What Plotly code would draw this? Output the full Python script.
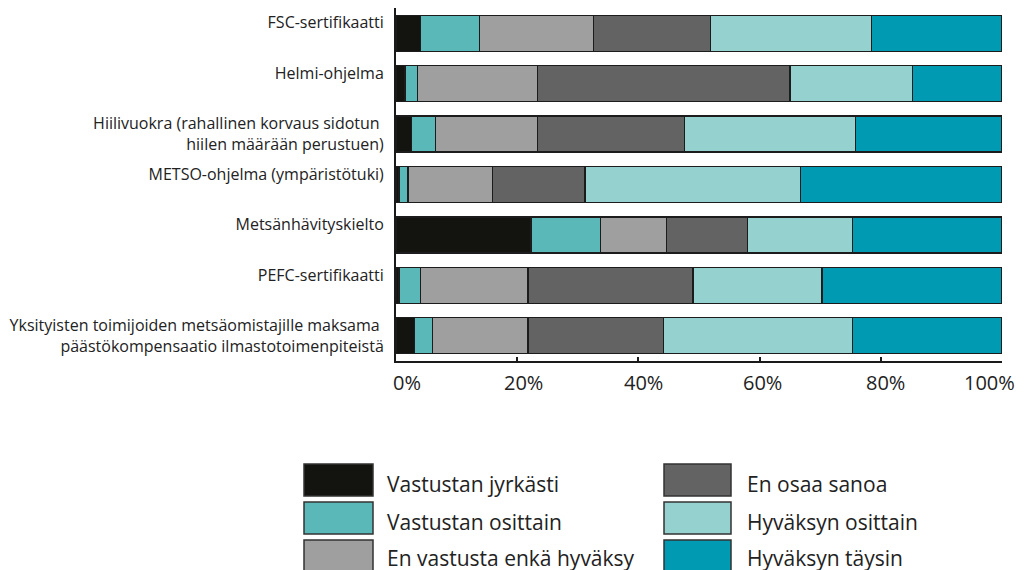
import plotly.graph_objects as go

# ---------------- data ----------------
categories = [
    "FSC-sertifikaatti",
    "Helmi-ohjelma",
    "Hiilivuokra (rahallinen korvaus sidotun\u00a0\nhiilen määrään perustuen)",
    "METSO-ohjelma (ympäristötuki)",
    "Metsänhävityskielto",
    "PEFC-sertifikaatti",
    "Yksityisten toimijoiden metsäomistajille maksama\u00a0\npäästökompensaatio ilmastotoimenpiteistä",
]

series_names = [
    "Vastustan jyrkästi",
    "Vastustan osittain",
    "En vastusta enkä hyväksy",
    "En osaa sanoa",
    "Hyväksyn osittain",
    "Hyväksyn täysin",
]

vastustan_jyrkasti = [4.0, 1.5, 2.5, 0.5, 22.3, 0.5, 3.0]
vastustan_osittain = [9.8, 2.0, 4.0, 1.5, 11.4, 3.5, 3.0]
en_vastusta_enka_hyvaksy = [18.8, 19.8, 16.8, 13.9, 10.9, 17.8, 15.8]
en_osaa_sanoa = [19.3, 41.7, 24.3, 15.3, 13.4, 27.2, 22.3]
hyvaksyn_osittain = [26.6, 20.2, 28.2, 35.6, 17.3, 21.3, 31.2]
hyvaksyn_taysin = [21.5, 14.8, 24.2, 33.2, 24.7, 29.7, 24.7]

series_values = [
    vastustan_jyrkasti,
    vastustan_osittain,
    en_vastusta_enka_hyvaksy,
    en_osaa_sanoa,
    hyvaksyn_osittain,
    hyvaksyn_taysin,
]

colors = ["#13140F", "#5BB8B8", "#9E9F9E", "#626362", "#94D1CF", "#009AB2"]

x_ticks = [0, 20, 40, 60, 80, 100]
x_tick_labels = ["0%", "20%", "40%", "60%", "80%", "100%"]

# ---------------- layout constants ----------------
# the page places the figure 8px in from the window's corner
OFF = 8
W, H = 1025, 570
ML = 396 - OFF
MT = 8 - OFF
PLOT_R = 1002 - OFF
PLOT_B = 361 - OFF
MR = W - PLOT_R
MB = H - PLOT_B
PW = W - ML - MR
PH = H - MT - MB
FONT = "Open Sans"
TXT = "#222222"
# horizontal nudges of the x tick labels (px), as laid out in the original
TICK_NUDGE = [11, 6, 5, 3, 5, -13]


def px_x(px):
    # px given in window coordinates
    return (px - OFF - ML) / PW


def px_y(py):
    return (PLOT_B - (py - OFF)) / PH


def tick_label(c):
    lines = c.split("\n")
    if len(lines) == 1:
        lines.append("\u00a0")
    return "<br>".join(lines)


fig = go.Figure()
for name, vals, col in zip(series_names, series_values, colors):
    fig.add_trace(
        go.Bar(
            y=categories,
            x=vals,
            name=name,
            orientation="h",
            marker=dict(color=col, line=dict(color="#1c1c1c", width=1.3)),
            showlegend=False,
        )
    )

fig.update_layout(
    width=W,
    height=H,
    margin=dict(l=ML, r=MR, t=MT, b=MB, autoexpand=False),
    barmode="stack",
    bargap=0.285,
    paper_bgcolor="white",
    plot_bgcolor="white",
    font=dict(family=FONT, color=TXT),
    xaxis=dict(
        range=[0, 100],
        tickvals=x_ticks,
        showticklabels=False,
        ticks="inside",
        ticklen=4,
        tickwidth=2,
        tickcolor="#1a1a1a",
        showline=True,
        linecolor="#1a1a1a",
        linewidth=2,
        showgrid=False,
        zeroline=False,
        automargin=False,
    ),
    yaxis=dict(
        type="category",
        autorange="reversed",
        tickvals=categories,
        ticktext=[tick_label(c) for c in categories],
        ticks="",
        showline=True,
        linecolor="#1a1a1a",
        linewidth=2,
        showgrid=False,
        zeroline=False,
        automargin=False,
        ticklabelstandoff=7,
        tickfont=dict(size=16, color=TXT),
    ),
)

# x tick labels placed on the axis scale
for v, lab, dx in zip(x_ticks, x_tick_labels, TICK_NUDGE):
    fig.add_annotation(
        xref="x",
        yref="paper",
        x=v,
        y=px_y(382),
        xanchor="center",
        yanchor="middle",
        xshift=dx,
        text=lab,
        showarrow=False,
        font=dict(size=20, color=TXT, family=FONT),
    )

# ---------------- custom legend (2 columns x 3 rows) ----------------
col_sw_x = [(304, 373), (664, 731)]
col_txt_x = [385, 745]
row_centers = [480, 518, 556]
text_drop = [4, 4, 2]
sw_h = 32
for i, (name, col) in enumerate(zip(series_names, colors)):
    c, r = divmod(i, 3)
    x0, x1 = col_sw_x[c]
    yc = row_centers[r]
    fig.add_shape(
        type="rect",
        xref="paper",
        yref="paper",
        x0=px_x(x0),
        x1=px_x(x1),
        y0=px_y(yc - sw_h / 2),
        y1=px_y(yc + sw_h / 2),
        fillcolor=col,
        line=dict(color="#333333", width=1.5),
    )
    fig.add_annotation(
        xref="paper",
        yref="paper",
        x=px_x(col_txt_x[c]),
        y=px_y(yc + text_drop[r]),
        xanchor="left",
        yanchor="middle",
        text=name,
        showarrow=False,
        font=dict(size=21, color=TXT, family=FONT),
    )

fig.write_html("out.html")
